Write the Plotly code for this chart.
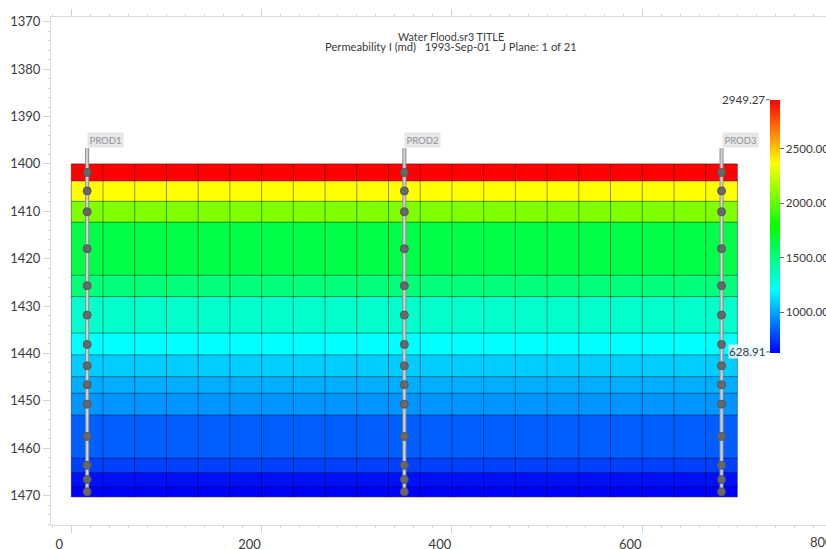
import plotly.graph_objects as go

layer_edges = [1400, 1403.6, 1407.9, 1412.3, 1423.5, 1428, 1435.7, 1440.3, 1444.9, 1448.4, 1453, 1462.1, 1465.1, 1468.1, 1470.3]
layer_perm = [2949, 2369, 2079, 1626, 1510, 1325, 1209, 1093, 1024, 970, 847, 774, 666, 629]
col_edges = [i * 100 / 3 for i in range(22)]
wells = ["PROD1", "PROD2", "PROD3"]
well_x = [16.7, 350, 683.3]
well_top = 1396.7
perf_depths = [1401.8, 1405.7, 1410.1, 1417.9, 1425.7, 1431.9, 1438.1, 1442.6, 1446.6, 1450.7, 1457.5, 1463.6, 1466.6, 1469.2]
y_ticks = [1370, 1380, 1390, 1400, 1410, 1420, 1430, 1440, 1450, 1460, 1470]
x_ticks = [0, 200, 400, 600]
bar_ticks = [1000, 1500, 2000, 2500]
z_min, z_max = 628.91, 2949.27
W, H = 826, 549
FONT = "Lato"
TXT = "#3a3a3a"
colorscale = [[0, "#0000ff"], [0.25, "#00ffff"], [0.5, "#00ff00"], [0.75, "#ffff00"], [1, "#ff0000"]]
px = lambda v: (v - 50.7) / (W - 50.7)
py = lambda v: 1 - (v - 16.7) / (525.3 - 16.7)

fig = go.Figure()
fig.add_trace(go.Heatmap(
    x=col_edges, y=layer_edges, z=[[v] * 21 for v in layer_perm],
    zmin=z_min, zmax=z_max, colorscale=colorscale, hoverinfo="skip",
    colorbar=dict(thickness=10, thicknessmode="pixels", len=253, lenmode="pixels",
                  x=px(770), xanchor="left", y=py(99.3), yanchor="top",
                  xpad=0, ypad=0, outlinewidth=0, tickvals=bar_ticks, ticktext=[f"{v:.2f}" for v in bar_ticks],
                  ticks="outside", ticklen=4, tickcolor="#666", tickfont=dict(family=FONT, size=11.6, color=TXT)),
))

grid_x, grid_y = [], []
for c in col_edges:
    grid_x += [c, c, None]
    grid_y += [layer_edges[0], layer_edges[-1], None]
for e in layer_edges:
    grid_x += [col_edges[0], col_edges[-1], None]
    grid_y += [e, e, None]
fig.add_trace(go.Scatter(x=grid_x, y=grid_y, mode="lines", line=dict(color="rgba(0,0,0,0.42)", width=1), hoverinfo="skip", showlegend=False))

for wx in well_x:
    ys = [well_top] + perf_depths
    xs = [wx] * len(ys)
    fig.add_trace(go.Scatter(x=xs, y=ys, mode="lines", line=dict(color="#8c8c8c", width=4), hoverinfo="skip", showlegend=False))
    fig.add_trace(go.Scatter(x=xs, y=ys, mode="lines", line=dict(color="#d4d4d4", width=2), hoverinfo="skip", showlegend=False))
    fig.add_trace(go.Scatter(x=[wx] * len(perf_depths), y=perf_depths, mode="markers",
                             marker=dict(size=8, color="#686868", line=dict(color="#555", width=1)),
                             hoverinfo="skip", showlegend=False))

annots = []
for name, wx in zip(wells, well_x):
    annots.append(dict(x=wx, y=well_top, xref="x", yref="y", xanchor="left", yanchor="bottom", showarrow=False,
                       text=name, font=dict(family=FONT, size=9.5, color="#8f949a"), bgcolor="#e6e6e6", borderpad=1.5,
                       yshift=0))
annots += [
    dict(x=px(451), y=py(36), xref="paper", yref="paper", xanchor="center", yanchor="middle", showarrow=False,
         text="Water Flood.sr3 TITLE", font=dict(family=FONT, size=10.8, color=TXT)),
    dict(x=px(451), y=py(46), xref="paper", yref="paper", xanchor="center", yanchor="middle", showarrow=False,
         text="Permeability I (md)   1993-Sep-01    J Plane: 1 of 21", font=dict(family=FONT, size=11.2, color=TXT)),
    dict(x=px(766), y=py(99), xref="paper", yref="paper", xanchor="right", yanchor="middle", showarrow=False,
         text="2949.27", font=dict(family=FONT, size=11.6, color=TXT), borderpad=0),
    dict(x=px(766), y=py(351.5), xref="paper", yref="paper", xanchor="right", yanchor="middle", showarrow=False,
         text="628.91", font=dict(family=FONT, size=11.6, color=TXT), bgcolor="rgba(235,250,255,0.85)", borderpad=0),
    dict(x=px(821), y=py(542.5), xref="paper", yref="paper", xanchor="center", yanchor="middle", showarrow=False,
         text="800", font=dict(family=FONT, size=13, color=TXT)),
]

axis_common = dict(showgrid=False, zeroline=False, showline=True, linecolor="#dcdcdc", linewidth=1,
                   ticks="outside", ticklen=7, tickcolor="#d4d4d4", tickwidth=1,
                   tickfont=dict(family=FONT, size=13, color=TXT))
fig.update_layout(
    width=W, height=H, margin=dict(l=50.7, r=0, t=16.7, b=H - 525.3, pad=0, autoexpand=False),
    paper_bgcolor="white", plot_bgcolor="white", showlegend=False, annotations=annots,
    xaxis=dict(range=[-21.3, (W - 71) / 0.952], tickmode="array", tickvals=x_ticks, mirror="allticks",
               ticklabelshift=-12,
               minor=dict(dtick=20, ticks="outside", ticklen=2, tickcolor="#d4d4d4"), **axis_common),
    yaxis=dict(range=[1476.2, 1369], tickmode="array", tickvals=y_ticks,
               minor=dict(dtick=2, ticks="outside", ticklen=2, tickcolor="#d4d4d4"), **axis_common),
    shapes=[dict(type="line", xref="paper", yref="paper", x0=px(766), x1=px(770), y0=py(99.5), y1=py(99.5), line=dict(color="#666", width=1)),
            dict(type="line", xref="paper", yref="paper", x0=px(766), x1=px(770), y0=py(352), y1=py(352), line=dict(color="#666", width=1))],
)
fig.write_html("out.html", config=dict(displayModeBar=False),
               post_script="document.body.style.margin='0';document.body.style.overflow='hidden';")
